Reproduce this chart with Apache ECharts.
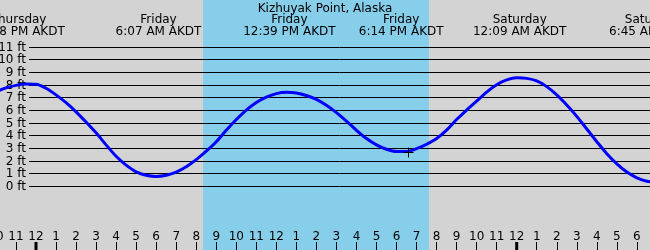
<!DOCTYPE html>
<html><head><meta charset="utf-8">
<script src="https://cdn.jsdelivr.net/npm/echarts@6/dist/echarts.min.js"></script>
<style>html,body{margin:0;padding:0;background:#d3d3d3}#c{width:650px;height:250px}</style>
</head><body><div id="c"></div>
<script>
// ---- data (hours are measured from Friday 00:00 AKDT) ----
const stationTitle = 'Kizhuyak Point, Alaska';
const hours = [-2,-1.5,-1,-0.5,0,0.5,1,1.5,2,2.5,3,3.5,4,4.5,5,5.5,6,6.5,7,7.5,8,8.5,9,9.5,10,10.5,11,11.5,12,12.5,13,13.5,14,14.5,15,15.5,16,16.5,17,17.5,18,18.5,19,19.5,20,20.5,21,21.5,22,22.5,23,23.5,24,24.5,25,25.5,26,26.5,27,27.5,28,28.5,29,29.5,30,30.5,31];
const heightFt = [7.45,7.75,7.95,8.05,8.03,7.72,7.2,6.58,5.86,5.05,4.2,3.25,2.35,1.65,1.12,0.85,0.76,0.85,1.1,1.52,2.08,2.75,3.5,4.4,5.25,6.0,6.6,7.02,7.3,7.4,7.35,7.15,6.85,6.38,5.8,5.13,4.4,3.75,3.25,2.9,2.72,2.72,2.95,3.3,3.75,4.42,5.25,6.0,6.7,7.42,8.0,8.38,8.55,8.5,8.3,7.85,7.2,6.4,5.5,4.5,3.5,2.55,1.75,1.1,0.65,0.38,0.3];
const eventHours = [-0.87, 6.117, 12.65, 18.233, 24.15, 30.75];
const eventDays = ['Thursday','Friday','Friday','Friday','Saturday','Saturday'];
const eventTimes = ['11:08 PM AKDT','6:07 AM AKDT','12:39 PM AKDT','6:14 PM AKDT','12:09 AM AKDT','6:45 AM AKDT'];
const daylight = [8.34, 19.62];
const feetTicks = [0,1,2,3,4,5,6,7,8,9,10,11];
const feetLabels = ['0 ft','1 ft','2 ft','3 ft','4 ft','5 ft','6 ft','7 ft','8 ft','9 ft','10 ft','11 ft'];
const midnightHours = [0, 24];
const nowPoint = [18.59, 2.65];

const FONT = '12px "DejaVu Sans"';
const chart = echarts.init(document.getElementById('c'), null, {renderer: 'canvas'});
const option = {
  animation: false,
  backgroundColor: '#d3d3d3',
  title: {
    text: stationTitle, left: 'center', top: -2,
    textStyle: {fontFamily: 'DejaVu Sans', fontSize: 12, fontWeight: 'normal', color: '#000'}
  },
  grid: {left: -4.06, right: -6.9, top: 0, bottom: 0, containLabel: false, outerBoundsMode: 'none'},
  xAxis: {
    type: 'value', min: -2, max: 31, interval: 1, z: 10,
    axisLine: {show: false, onZero: false}, splitLine: {show: false},
    axisTick: {inside: true, length: 8, lineStyle: {color: '#000', width: 1}},
    axisLabel: {
      inside: true, margin: 7.5, color: '#000', fontFamily: 'DejaVu Sans', fontSize: 12,
      showMinLabel: true, showMaxLabel: true, hideOverlap: false,
      formatter: function (v) { const m = ((Math.round(v) % 12) + 12) % 12; return String(m === 0 ? 12 : m); }
    }
  },
  yAxis: {type: 'value', min: -5.055, max: 14.692, show: false},
  series: [
    {
      type: 'line', data: [], z: 0, silent: true,
      markArea: {silent: true, itemStyle: {color: '#87ceeb'}, data: [[{xAxis: daylight[0]}, {xAxis: daylight[1]}]]}
    },
    {
      type: 'custom', z: 1, silent: true,
      data: feetTicks.map(v => [0, v]),
      renderItem: function (params, api) {
        const y = Math.round(api.coord([0, api.value(1)])[1]) + 0.5;
        return {type: 'group', children: [
          {type: 'line', shape: {x1: 29, y1: y, x2: api.getWidth(), y2: y}, style: {stroke: '#000', lineWidth: 1}},
          {type: 'text', x: 26, y: y, style: {text: feetLabels[params.dataIndex], font: FONT, fill: '#000', align: 'right', verticalAlign: 'middle'}}
        ]};
      }
    },
    {
      type: 'line', z: 3, smooth: 0.3, showSymbol: false, silent: true,
      data: hours.map((h, i) => [h, heightFt[i]]),
      lineStyle: {color: '#0000ff', width: 3}
    },
    {
      type: 'custom', z: 4, silent: true,
      data: midnightHours.map(h => [h, 0]),
      renderItem: function (params, api) {
        const x = api.coord([api.value(0), 0])[0];
        return {type: 'rect', shape: {x: x - 1.5, y: api.getHeight() - 8, width: 3, height: 8}, style: {fill: '#000'}};
      }
    },
    {
      type: 'custom', z: 4, silent: true,
      data: eventHours.map(h => [h, 0]),
      renderItem: function (params, api) {
        const x = api.coord([api.value(0), 0])[0];
        const i = params.dataIndex;
        return {type: 'text', x: x, y: 26, style: {text: eventDays[i] + '\n' + eventTimes[i], font: FONT, lineHeight: 12, fill: '#000', align: 'center', verticalAlign: 'middle'}};
      }
    },
    {
      type: 'custom', z: 5, silent: true,
      data: [nowPoint],
      renderItem: function (params, api) {
        const p = api.coord([api.value(0), api.value(1)]);
        const x = Math.round(p[0]) + 0.5, y = Math.round(p[1]) + 0.5;
        return {type: 'group', children: [
          {type: 'line', shape: {x1: x - 5, y1: y, x2: x + 5, y2: y}, style: {stroke: '#000', lineWidth: 1}},
          {type: 'line', shape: {x1: x, y1: y - 5, x2: x, y2: y + 5}, style: {stroke: '#000', lineWidth: 1}}
        ]};
      }
    }
  ]
};
chart.setOption(option);
</script>
</body></html>
